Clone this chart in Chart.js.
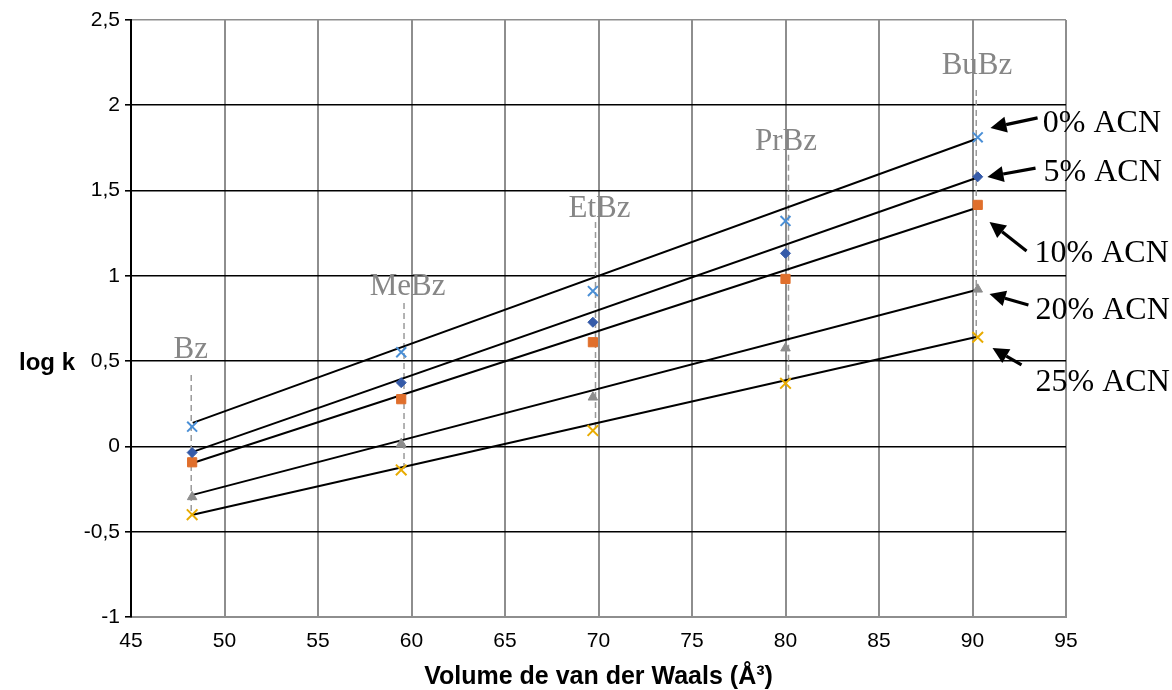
<!DOCTYPE html>
<html>
<head>
<meta charset="utf-8">
<script src="https://cdn.jsdelivr.net/npm/chart.js@4/dist/chart.umd.min.js"></script>
<style>
  html, body { margin: 0; padding: 0; background: #fff; }
  #wrap { width: 1172px; height: 690px; position: relative; }
</style>
</head>
<body>
<div id="wrap"><canvas id="c"></canvas></div>
<script>
// Alkylbenzenes and their van der Waals volumes (Å³)
const compounds = ['Bz', 'MeBz', 'EtBz', 'PrBz', 'BuBz'];
const volumes = [48.27, 59.45, 69.7, 80.0, 90.28];

// log k measured at each acetonitrile content
const series = ['0% ACN', '5% ACN', '10% ACN', '20% ACN', '25% ACN'];
const logK0  = [0.116, 0.552, 0.911, 1.322, 1.812];
const logK5  = [-0.036, 0.374, 0.728, 1.132, 1.581];
const logK10 = [-0.093, 0.277, 0.611, 0.982, 1.416];
const logK20 = [-0.296, 0.016, 0.288, 0.576, 0.921];
const logK25 = [-0.400, -0.138, 0.093, 0.370, 0.640];

// Linear trend lines: value at the first and last volume
const trendX  = [48.3, 90.2];
const trend0  = [0.138, 1.802];
const trend5  = [-0.032, 1.574];
const trend10 = [-0.097, 1.398];
const trend20 = [-0.284, 0.917];
const trend25 = [-0.400, 0.642];

// Compound name tags with their dashed drop lines
const tagX = [48.20, 59.79, 70.05, 80.03, 90.24];
const tagY = [0.519, 0.888, 1.345, 1.738, 2.183];
const dropX = [48.22, 59.60, 69.84, 80.16, 90.20];
const dropTop = [0.419, 0.841, 1.316, 1.710, 2.090];

// Series captions and the arrows pointing at the last point of each line
const captionX = [93.76, 93.80, 93.32, 93.37, 93.37];
const captionY = [1.845, 1.558, 1.080, 0.747, 0.327];
const arrowFromX = [93.48, 93.37, 92.89, 92.99, 92.62];
const arrowFromY = [1.926, 1.632, 1.146, 0.829, 0.478];
const arrowToX = [90.96, 90.80, 90.91, 90.91, 91.07];
const arrowToY = [1.867, 1.580, 1.316, 0.894, 0.577];

// Axis ticks
const xTicks = { min: 45, max: 95, step: 5 };
const yTicks = { min: -1, max: 2.5, step: 0.5 };

const seriesValues = [logK0, logK5, logK10, logK20, logK25];
const trendValues = [trend0, trend5, trend10, trend20, trend25];
const markerStyles = [
  { pointStyle: 'crossRot', color: '#4a8fd6', radius: 7, width: 2 },
  { pointStyle: 'rectRot', color: '#355aa8', radius: 5, width: 1 },
  { pointStyle: 'rect', color: '#e06f2c', radius: 6.5, width: 1 },
  { pointStyle: 'triangle', color: '#8d8d8d', radius: 5.5, width: 1 },
  { pointStyle: 'crossRot', color: '#e8ab00', radius: 7.5, width: 2 }
];

const datasets = [];

// dashed drop lines under each compound name
compounds.forEach((name, i) => {
  datasets.push({
    label: name,
    data: [{ x: dropX[i], y: dropTop[i] }, { x: dropX[i], y: logK25[i] }],
    showLine: true,
    borderColor: '#9a9a9a',
    borderWidth: 1.5,
    borderDash: [6, 4],
    pointRadius: 0,
    order: 3
  });
});

// trend lines
series.forEach((name, s) => {
  datasets.push({
    label: name + ' (trend)',
    data: trendX.map((v, i) => ({ x: v, y: trendValues[s][i] })),
    showLine: true,
    borderColor: '#000',
    borderWidth: 2,
    pointRadius: 0,
    order: 2
  });
});

// measured points
series.forEach((name, s) => {
  const m = markerStyles[s];
  datasets.push({
    label: name,
    data: volumes.map((v, i) => ({ x: v, y: seriesValues[s][i] })),
    showLine: false,
    pointStyle: m.pointStyle,
    pointRadius: m.radius,
    pointBorderWidth: m.width,
    pointBorderColor: m.color,
    pointBackgroundColor: m.color,
    order: 1
  });
});

const sansFont = '"Liberation Sans", Arial, sans-serif';
const serifFont = '"Liberation Serif", "Times New Roman", serif';

const notes = {
  id: 'notes',
  afterDatasetsDraw(chart) {
    const { ctx, scales: { x, y } } = chart;
    ctx.save();

    // compound names
    ctx.font = '31px ' + serifFont;
    ctx.fillStyle = '#868686';
    ctx.textAlign = 'center';
    ctx.textBaseline = 'alphabetic';
    compounds.forEach((name, i) => {
      ctx.fillText(name, x.getPixelForValue(tagX[i]), y.getPixelForValue(tagY[i]));
    });

    // series captions
    ctx.font = '32px ' + serifFont;
    ctx.fillStyle = '#000';
    ctx.textAlign = 'left';
    series.forEach((name, i) => {
      ctx.fillText(name, x.getPixelForValue(captionX[i]), y.getPixelForValue(captionY[i]));
    });

    // arrows
    ctx.strokeStyle = '#000';
    ctx.fillStyle = '#000';
    ctx.lineWidth = 3.2;
    series.forEach((name, i) => {
      const x0 = x.getPixelForValue(arrowFromX[i]);
      const y0 = y.getPixelForValue(arrowFromY[i]);
      const x1 = x.getPixelForValue(arrowToX[i]);
      const y1 = y.getPixelForValue(arrowToY[i]);
      const ang = Math.atan2(y1 - y0, x1 - x0);
      const head = 16, half = 8;
      const bx = x1 - head * Math.cos(ang);
      const by = y1 - head * Math.sin(ang);
      ctx.beginPath();
      ctx.moveTo(x0, y0);
      ctx.lineTo(bx, by);
      ctx.stroke();
      ctx.beginPath();
      ctx.moveTo(x1, y1);
      ctx.lineTo(bx + half * Math.sin(ang), by - half * Math.cos(ang));
      ctx.lineTo(bx - half * Math.sin(ang), by + half * Math.cos(ang));
      ctx.closePath();
      ctx.fill();
    });

    // horizontal y-axis title
    ctx.font = 'bold 24px ' + sansFont;
    ctx.textAlign = 'center';
    ctx.textBaseline = 'middle';
    ctx.fillText('log k', 47, 363);

    ctx.restore();
  }
};

Chart.defaults.font.family = sansFont;
Chart.defaults.color = '#000';

new Chart(document.getElementById('c'), {
  type: 'scatter',
  data: { datasets },
  options: {
    responsive: true,
    maintainAspectRatio: false,
    animation: false,
    events: [],
    layout: { padding: { top: 20, right: 106, bottom: 0, left: 0 } },
    plugins: {
      legend: { display: false },
      tooltip: { enabled: false }
    },
    scales: {
      x: {
        type: 'linear',
        min: xTicks.min,
        max: xTicks.max,
        ticks: { stepSize: xTicks.step, font: { size: 21 }, padding: 12, color: '#000' },
        grid: {
          color: (c) => (c.tick && c.tick.value === xTicks.min ? 'rgba(0,0,0,0)' : '#8e8e8e'),
          lineWidth: 2,
          drawTicks: false
        },
        border: { color: '#8e8e8e', width: 2 },
        title: {
          display: true,
          text: 'Volume de van der Waals (Å³)',
          font: { size: 25, weight: 'bold' },
          color: '#000',
          padding: { top: 0, bottom: -2 }
        },
        afterFit(scale) { scale.height = 73; }
      },
      y: {
        type: 'linear',
        min: yTicks.min,
        max: yTicks.max,
        ticks: {
          stepSize: yTicks.step,
          font: { size: 21 },
          padding: 5,
          color: '#000',
          callback: (v) => String(v).replace('.', ',')
        },
        grid: {
          color: (c) => (c.tick && (c.tick.value === yTicks.min || c.tick.value === yTicks.max) ? '#8e8e8e' : '#000'),
          lineWidth: 1.6,
          tickColor: '#000',
          tickLength: 6,
          tickWidth: 1.6
        },
        border: { color: '#000', width: 2 },
        afterFit(scale) { scale.width = 131; }
      }
    }
  },
  plugins: [notes]
});
</script>
</body>
</html>
